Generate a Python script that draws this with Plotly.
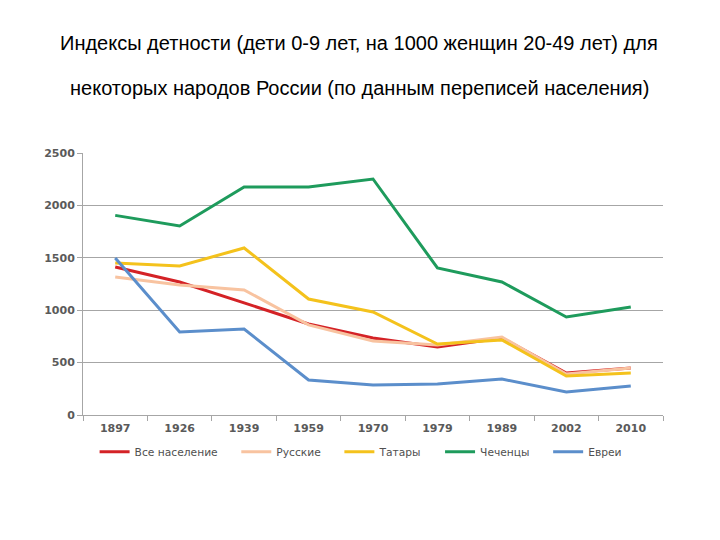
import plotly.graph_objects as go

years = ["1897", "1926", "1939", "1959", "1970", "1979", "1989", "2002", "2010"]
all_pop = [1412, 1269, 1070, 868, 735, 650, 735, 400, 448]
russians = [1316, 1240, 1193, 860, 706, 668, 744, 391, 448]
tatars = [1450, 1422, 1594, 1107, 983, 677, 716, 372, 400]
chechens = [1905, 1803, 2175, 2175, 2252, 1403, 1269, 935, 1030]
jews = [1498, 792, 820, 334, 286, 296, 343, 219, 277]

names = ["Все население", "Русские", "Татары", "Чеченцы", "Евреи"]
series = [all_pop, russians, tatars, chechens, jews]
colors = ["#D42226", "#F8C3A0", "#F4C21C", "#1E9B5C", "#5B8ECB"]

fig = go.Figure()
for i, (n, s, c) in enumerate(zip(names, series, colors)):
    pad = "\u00a0" * 4 if i < len(names) - 1 else ""
    fig.add_trace(go.Scatter(x=years, y=s, name=n + pad, mode="lines",
                             line=dict(color=c, width=3)))

tick_font = dict(family="DejaVu Sans", size=11, color="#5A5A5A", weight="bold")
fig.update_layout(
    width=720, height=540,
    paper_bgcolor="white", plot_bgcolor="white",
    margin=dict(l=75, r=65, t=145, b=133),
    showlegend=True,
    legend=dict(orientation="h", x=0.02, y=-0.085, xanchor="left", yanchor="top",
                font=dict(family="DejaVu Sans", size=10.7, color="#505050"),
                itemwidth=30, traceorder="normal"),
    xaxis=dict(type="category", range=[-0.5, 8.5], showgrid=False, showline=True,
               linecolor="#A6A6A6", ticks="outside", tickson="boundaries", ticklen=5,
               tickcolor="#A6A6A6", tickfont=tick_font, ticklabelstandoff=3),
    yaxis=dict(range=[0, 2500], dtick=500, showgrid=True, gridcolor="#A6A6A6",
               showline=True, linecolor="#A6A6A6", ticks="outside", ticklen=5,
               tickcolor="#A6A6A6", zeroline=False, tickfont=tick_font),
)
title_font = dict(family="Liberation Sans, Arial", size=20, color="black")
fig.add_annotation(text="Индексы детности (дети 0-9 лет, на 1000 женщин 20-49 лет) для",
                   xref="paper", yref="paper", x=0.5, y=1, yshift=110, xshift=-14,
                   showarrow=False, font=title_font, xanchor="center", yanchor="middle")
fig.add_annotation(text="некоторых народов России (по данным переписей населения)",
                   xref="paper", yref="paper", x=0.5, y=1, yshift=65, xshift=-14,
                   showarrow=False, font=title_font, xanchor="center", yanchor="middle")
fig.write_html("out.html")
